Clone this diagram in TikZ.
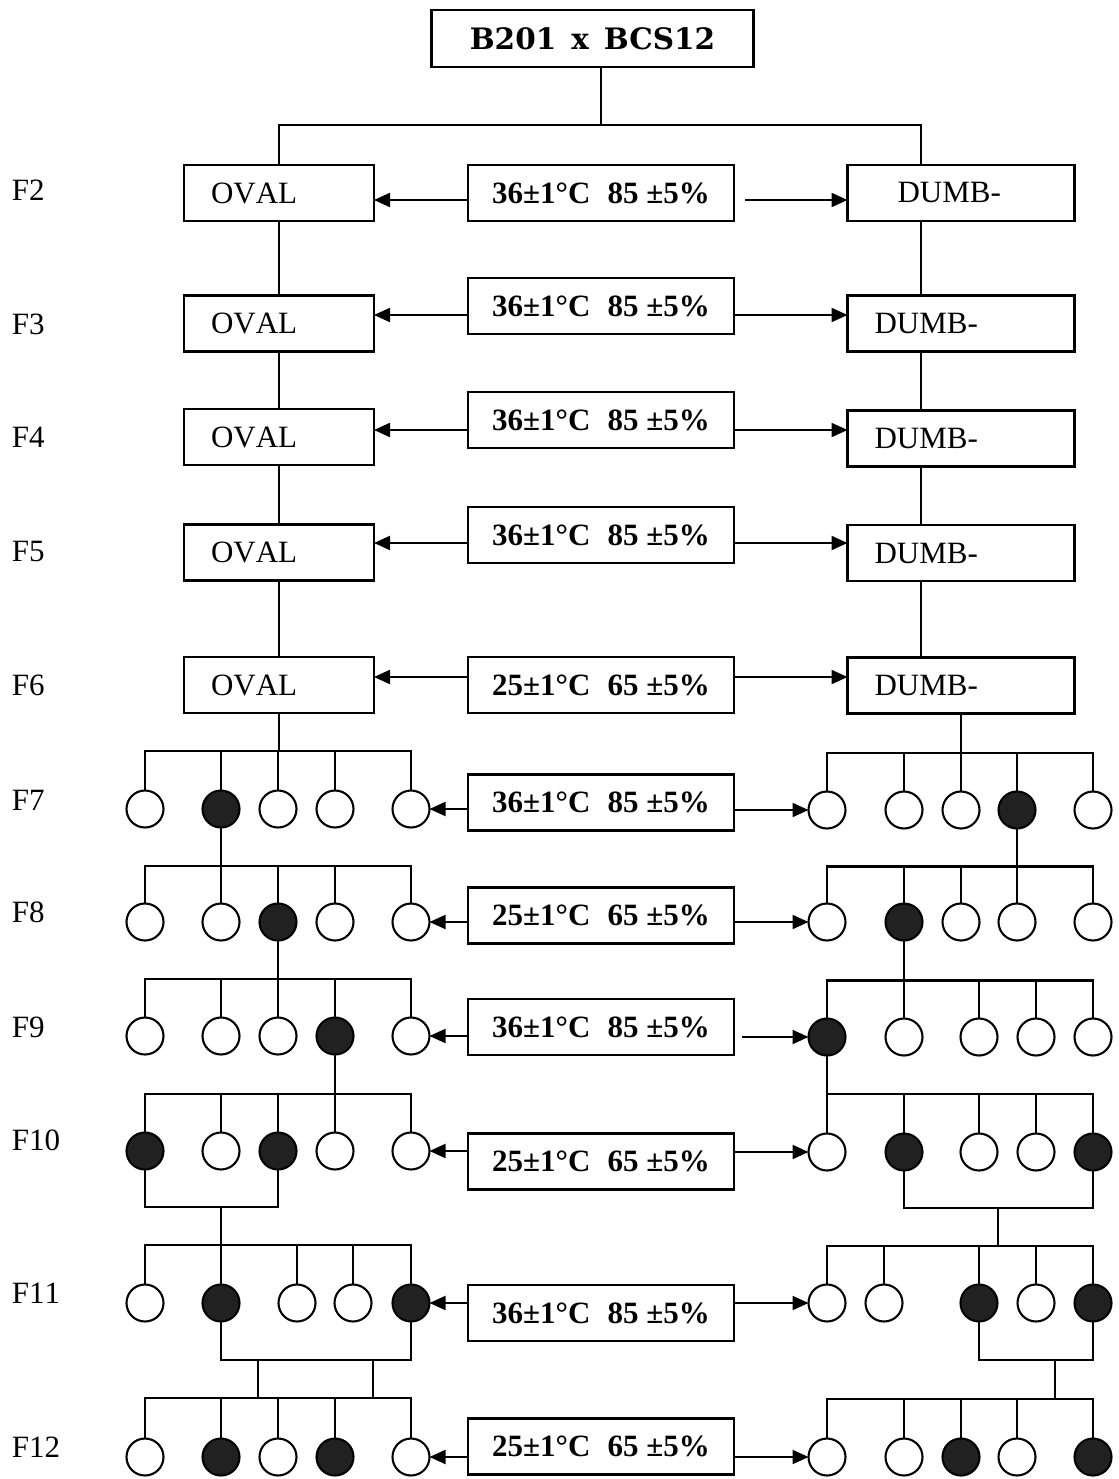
\documentclass[tikz,border=0pt]{standalone}
\usepackage{fontspec}
\setmainfont[Kerning=Off]{Liberation Serif}
\newfontfamily\titlefont{DejaVu Serif}
\usetikzlibrary{arrows.meta}
\newcommand{\kinbar}[2]{%
  \draw[link] (#1a.north) |- (#1e.north |- #2) -- (#1e.north);
  \foreach \n in {b,c,d} \draw[link] (#1\n.north) -- (#1\n.north |- #2);}
\begin{document}
\begin{tikzpicture}[x=1pt,y=-1pt,
  every node/.style={inner sep=0pt, outer sep=0pt},
  link/.style={line width=2.1pt},
  box/.style={draw, line width=2.1pt, minimum height=56pt, font=\fontsize{31}{37}\selectfont},
  obox/.style={box, minimum width=190pt},
  dbox/.style={box, minimum width=227pt},
  cbox/.style={box, minimum width=266pt, font=\fontsize{31}{37}\selectfont\bfseries},
  ind/.style={draw, circle, line width=2.1pt, minimum size=37pt, fill=white},
  aff/.style={ind, fill=black!87},
  gen/.style={font=\fontsize{31}{37}\selectfont, anchor=west},
  arr/.style={line width=2.1pt, -{Triangle[length=16pt,width=14pt]}},
]
\fill[white] (0,0) rectangle (1118,1479);
\useasboundingbox (0,0) rectangle (1118,1479);

% title
\node[draw, line width=2.1pt, minimum width=322pt, minimum height=57pt,
      font=\titlefont\bfseries\fontsize{29.5}{35}\selectfont] (T) at (592.5,38.5)
      {B201\hspace{15pt}x\hspace{15pt}BCS12};
\coordinate (top) at (601,125);
\draw[link] (T.south -| top) -- (top);

% generation labels
\node[gen] (g2) at (12,190) {F2};
\node[gen] (g3) at (12,324) {F3};
\node[gen] (g4) at (12,437) {F4};
\node[gen] (g5) at (12,551) {F5};
\node[gen] (g6) at (12,685) {F6};
\node[gen] (g7) at (12,800) {F7};
\node[gen] (g8) at (12,912) {F8};
\node[gen] (g9) at (12,1027) {F9};
\node[gen] (g10) at (12,1140) {F10};
\node[gen] (g11) at (12,1293) {F11};
\node[gen] (g12) at (12,1447) {F12};

% OVAL boxes
\node[obox] (O2) at (279,193) {\makebox[190pt][l]{\hspace{27pt}OVAL}};
\node[obox] (O3) at (279,323.5) {\makebox[190pt][l]{\hspace{27pt}OVAL}};
\node[obox] (O4) at (279,437) {\makebox[190pt][l]{\hspace{27pt}OVAL}};
\node[obox] (O5) at (279,552.5) {\makebox[190pt][l]{\hspace{27pt}OVAL}};
\node[obox] (O6) at (279,685) {\makebox[190pt][l]{\hspace{27pt}OVAL}};

% DUMB boxes
\node[dbox] (D2) at (961,193) {\makebox[227pt][l]{\hspace{50pt}DUMB-}};
\node[dbox] (D3) at (961,323.5) {\makebox[227pt][l]{\hspace{27pt}DUMB-}};
\node[dbox] (D4) at (961,438.5) {\makebox[227pt][l]{\hspace{27pt}DUMB-}};
\node[dbox] (D5) at (961,553) {\makebox[227pt][l]{\hspace{27pt}DUMB-}};
\node[dbox] (D6) at (961,685.5) {\makebox[227pt][l]{\hspace{27pt}DUMB-}};

% condition boxes
\node[cbox] (C2) at (601,193) {36±1°C\hspace{0.55em}85 ±5\%};
\node[cbox] (C3) at (601,306) {36±1°C\hspace{0.55em}85 ±5\%};
\node[cbox] (C4) at (601,420) {36±1°C\hspace{0.55em}85 ±5\%};
\node[cbox] (C5) at (601,535) {36±1°C\hspace{0.55em}85 ±5\%};
\node[cbox] (C6) at (601,685) {25±1°C\hspace{0.55em}65 ±5\%};
\node[cbox] (C7) at (601,802.5) {36±1°C\hspace{0.55em}85 ±5\%};
\node[cbox] (C8) at (601,915.5) {25±1°C\hspace{0.55em}65 ±5\%};
\node[cbox] (C9) at (601,1027) {36±1°C\hspace{0.55em}85 ±5\%};
\node[cbox] (C10) at (601,1161.5) {25±1°C\hspace{0.55em}65 ±5\%};
\node[cbox] (C11) at (601,1313) {36±1°C\hspace{0.55em}85 ±5\%};
\node[cbox] (C12) at (601,1446.5) {25±1°C\hspace{0.55em}65 ±5\%};

% top connections
\draw[link] (O2.north) |- (top) -| ([xshift=-40pt]D2.north);
\draw[link] (O2.south) -- (O3.north);
\draw[link] (O3.south) -- (O4.north);
\draw[link] (O4.south) -- (O5.north);
\draw[link] (O5.south) -- (O6.north);
\draw[link] ([xshift=-40pt]D2.south) -- ([xshift=-40pt]D3.north);
\draw[link] ([xshift=-40pt]D3.south) -- ([xshift=-40pt]D4.north);
\draw[link] ([xshift=-40pt]D4.south) -- ([xshift=-40pt]D5.north);
\draw[link] ([xshift=-40pt]D5.south) -- ([xshift=-40pt]D6.north);

% left individuals
\foreach \n/\x/\s in {a/145/ind,b/221/aff,c/278/ind,d/335/ind,e/411/ind}
  \node[\s] (L7\n) at (\x,809) {};
\foreach \n/\x/\s in {a/145/ind,b/221/ind,c/278/aff,d/335/ind,e/411/ind}
  \node[\s] (L8\n) at (\x,922) {};
\foreach \n/\x/\s in {a/145/ind,b/221/ind,c/278/ind,d/335/aff,e/411/ind}
  \node[\s] (L9\n) at (\x,1036) {};
\foreach \n/\x/\s in {a/145/aff,b/221/ind,c/278/aff,d/335/ind,e/411/ind}
  \node[\s] (L10\n) at (\x,1151) {};
\foreach \n/\x/\s in {a/145/ind,b/221/aff,c/297/ind,d/353/ind,e/411/aff}
  \node[\s] (L11\n) at (\x,1303) {};
\foreach \n/\x/\s in {a/145/ind,b/221/aff,c/278/ind,d/335/aff,e/411/ind}
  \node[\s] (L12\n) at (\x,1457) {};

% right individuals
\foreach \n/\x/\s in {a/827/ind,b/904/ind,c/961/ind,d/1017/aff,e/1093/ind}
  \node[\s] (R7\n) at (\x,810) {};
\foreach \n/\x/\s in {a/827/ind,b/904/aff,c/961/ind,d/1017/ind,e/1093/ind}
  \node[\s] (R8\n) at (\x,922) {};
\foreach \n/\x/\s in {a/827/aff,b/904/ind,c/979/ind,d/1036/ind,e/1093/ind}
  \node[\s] (R9\n) at (\x,1037) {};
\foreach \n/\x/\s in {a/827/ind,b/904/aff,c/979/ind,d/1036/ind,e/1093/aff}
  \node[\s] (R10\n) at (\x,1152) {};
\foreach \n/\x/\s in {a/827/ind,b/884/ind,c/979/aff,d/1036/ind,e/1093/aff}
  \node[\s] (R11\n) at (\x,1303) {};
\foreach \n/\x/\s in {a/827/ind,b/904/ind,c/961/aff,d/1017/ind,e/1093/aff}
  \node[\s] (R12\n) at (\x,1457) {};

% sibship bars, left
\coordinate (bL7) at (278,751);
\coordinate (bL8) at (221,866);
\coordinate (bL9) at (278,979);
\coordinate (bL10) at (335,1094);
\coordinate (bL11) at (221,1245);
\coordinate (bL12) at (258,1398);
\draw[link] (O6.south) -- (O6.south |- bL7);
\draw[link] (L7b.south) -- (L7b.south |- bL8);
\draw[link] (L8c.south) -- (L8c.south |- bL9);
\draw[link] (L9d.south) -- (L9d.south |- bL10);
\kinbar{L7}{bL7}
\kinbar{L8}{bL8}
\kinbar{L9}{bL9}
\kinbar{L10}{bL10}
\kinbar{L11}{bL11}
\kinbar{L12}{bL12}
\coordinate (jL10) at (221,1207);
\draw[link] (L10a.south) |- (L10c.south |- jL10) -- (L10c.south);
\draw[link] (jL10) -- (jL10 |- bL11);
\coordinate (jL11) at (258,1360);
\coordinate (kL11) at (373,1360);
\draw[link] (L11b.south) |- (L11e.south |- jL11) -- (L11e.south);
\draw[link] (jL11) -- (jL11 |- bL12);
\draw[link] (kL11) -- (kL11 |- bL12);

% sibship bars, right
\coordinate (bR7) at (961,753);
\coordinate (bR8) at (1017,866.5);
\coordinate (bR9) at (904,980.5);
\coordinate (bR10) at (827,1094);
\coordinate (bR11) at (998,1246);
\coordinate (bR12) at (1055,1399);
\draw[link] (D6.south) -- (D6.south |- bR7);
\draw[link] (R7d.south) -- (R7d.south |- bR8);
\draw[link] (R8b.south) -- (R8b.south |- bR9);
\draw[link] (R9a.south) -- (R9a.south |- bR10);
\kinbar{R7}{bR7}
\kinbar{R8}{bR8}
\kinbar{R9}{bR9}
\kinbar{R10}{bR10}
\kinbar{R11}{bR11}
\kinbar{R12}{bR12}
\coordinate (jR10) at (998,1208);
\draw[link] (R10b.south) |- (R10e.south |- jR10) -- (R10e.south);
\draw[link] (jR10) -- (jR10 |- bR11);
\coordinate (jR11) at (1055,1360);
\draw[link] (R11c.south) |- (R11e.south |- jR11) -- (R11e.south);
\draw[link] (jR11) -- (jR11 |- bR12);

% arrows
\coordinate (a2) at (745,200);
\draw[arr] (C2.west |- a2) -- (O2.east |- a2);
\draw[arr] (a2) -- (D2.west |- a2);
\coordinate (a3) at (0,315);
\draw[arr] (C3.west |- a3) -- (O3.east |- a3);
\draw[arr] (C3.east |- a3) -- (D3.west |- a3);
\coordinate (a4) at (0,430);
\draw[arr] (C4.west |- a4) -- (O4.east |- a4);
\draw[arr] (C4.east |- a4) -- (D4.west |- a4);
\coordinate (a5) at (0,543);
\draw[arr] (C5.west |- a5) -- (O5.east |- a5);
\draw[arr] (C5.east |- a5) -- (D5.west |- a5);
\coordinate (a6) at (0,677);
\draw[arr] (C6.west |- a6) -- (O6.east |- a6);
\draw[arr] (C6.east |- a6) -- (D6.west |- a6);
\draw[arr] (C7.west |- L7e) -- (L7e.east);
\draw[arr] (C7.east |- R7a) -- (R7a.west);
\draw[arr] (C8.west |- L8e) -- (L8e.east);
\draw[arr] (C8.east |- R8a) -- (R8a.west);
\coordinate (a9) at (742,1037);
\draw[arr] (C9.west |- L9e) -- (L9e.east);
\draw[arr] (a9) -- (R9a.west);
\draw[arr] (C10.west |- L10e) -- (L10e.east);
\draw[arr] (C10.east |- R10a) -- (R10a.west);
\draw[arr] (C11.west |- L11e) -- (L11e.east);
\draw[arr] (C11.east |- R11a) -- (R11a.west);
\draw[arr] (C12.west |- L12e) -- (L12e.east);
\draw[arr] (C12.east |- R12a) -- (R12a.west);
\end{tikzpicture}
\end{document}
